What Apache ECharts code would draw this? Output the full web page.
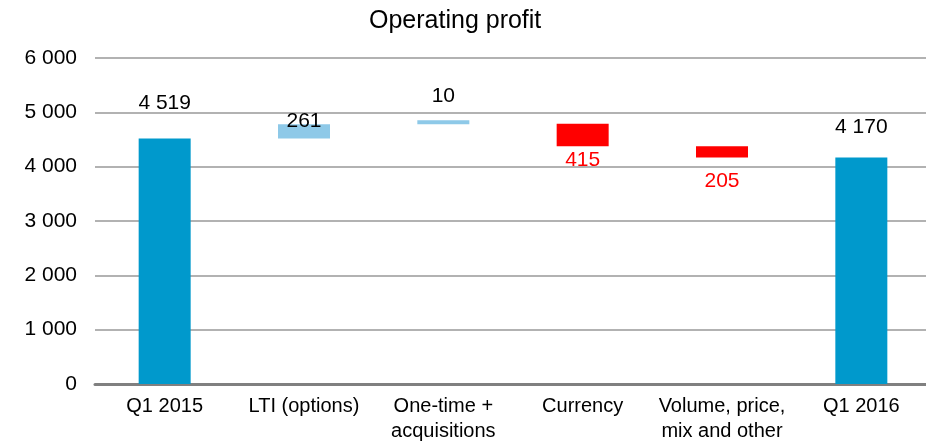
<!DOCTYPE html>
<html>
<head>
<meta charset="utf-8">
<script src="https://cdn.jsdelivr.net/npm/echarts@6/dist/echarts.min.js"></script>
<style>
  html, body { margin: 0; padding: 0; background: #fff; }
  #chart { width: 926px; height: 441px; }
</style>
</head>
<body>
<div id="chart"></div>
<script>
// categories and values (deltas for the middle steps)
const categories = ['Q1 2015', 'LTI (options)', 'One-time +\nacquisitions', 'Currency', 'Volume, price,\nmix and other', 'Q1 2016'];
const values = [4519, 261, 10, -415, -205, 4170];
const isTotal = [true, false, false, false, false, true];
const yTicks = [0, 1000, 2000, 3000, 4000, 5000, 6000];

const chart = echarts.init(document.getElementById('chart'));

// running base for the floating bars
let running = 0;
const baseData = [];
const barData = [];
values.forEach((v, i) => {
  if (isTotal[i]) {
    baseData.push(0);
    barData.push(v);
    running = v;
  } else if (v >= 0) {
    baseData.push(running);
    barData.push(v);
    running += v;
  } else {
    running += v;
    baseData.push(running);
    barData.push(-v);
  }
});

// label distance per bar (style only)
const labelDist = [25, -7, 14, 3, 13, 20];

const fmt = n => String(n).replace(/\B(?=(\d{3})+(?!\d))/g, ' ');
const font = 'Liberation Sans, Arial, sans-serif';

const option = {
  animation: false,
  backgroundColor: '#fff',
  textStyle: { fontFamily: font },
  title: {
    text: 'Operating profit',
    left: 364,
    top: 4,
    textStyle: { fontSize: 25, fontWeight: 'normal', color: '#000', fontFamily: font }
  },
  grid: { left: 95, right: -5, top: 58, bottom: 57, outerBoundsMode: 'none', containLabel: false },
  xAxis: {
    type: 'category',
    data: categories,
    axisLine: { lineStyle: { color: '#808080', width: 3 } },
    axisTick: { show: false },
    axisLabel: { color: '#000', fontSize: 20, margin: 10, lineHeight: 25, interval: 0 }
  },
  yAxis: {
    type: 'value',
    min: 0,
    max: 6000,
    interval: 1000,
    axisLine: { show: false },
    axisTick: { show: false },
    splitLine: { lineStyle: { color: '#999', width: 1.5 } },
    axisLabel: {
      color: '#000', fontSize: 21, margin: 18,
      formatter: v => yTicks.includes(v) ? fmt(v) : ''
    }
  },
  series: [
    {
      type: 'bar',
      stack: 'wf',
      barWidth: 52,
      itemStyle: { color: 'transparent' },
      emphasis: { disabled: true },
      data: baseData
    },
    {
      type: 'bar',
      stack: 'wf',
      barWidth: 52,
      barMinHeight: 4,
      data: barData.map((v, i) => {
        const neg = values[i] < 0;
        const color = isTotal[i] ? '#0099CC' : (neg ? '#FF0000' : '#8EC9E8');
        return {
          value: v,
          itemStyle: { color: color },
          label: {
            show: true,
            position: neg ? 'bottom' : 'top',
            distance: labelDist[i],
            color: neg ? '#FF0000' : '#000',
            fontSize: 21,
            formatter: () => fmt(Math.abs(values[i]))
          }
        };
      })
    }
  ]
};

chart.setOption(option);
</script>
</body>
</html>
